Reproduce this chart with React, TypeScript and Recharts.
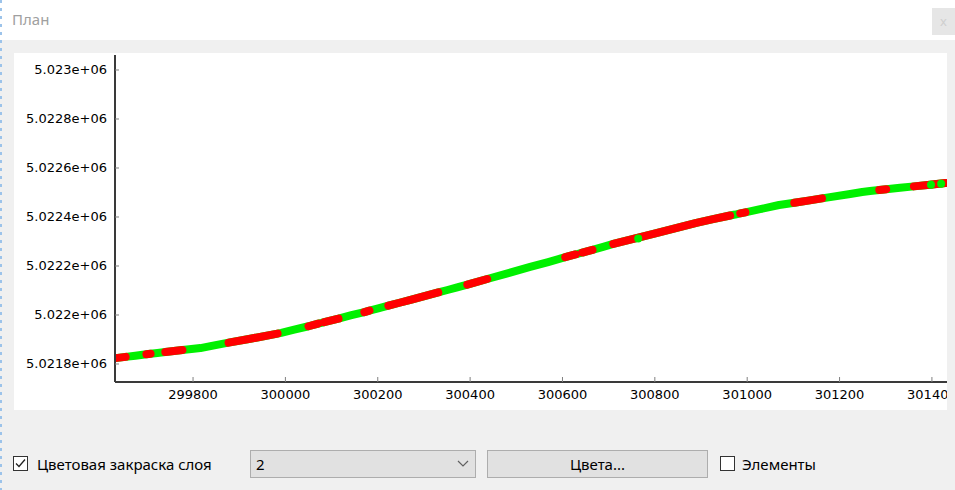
import React from 'react';
import { LineChart, Line, XAxis, YAxis, ReferenceDot } from 'recharts';

// curve samples (easting, northing)
const xValues = [
  299632, 299654, 299675, 299699, 299708, 299723, 299740, 299777, 299816, 299846,
  299877, 299924, 299983, 299991, 300019, 300050, 300071, 300078, 300084, 300115,
  300143, 300171, 300182, 300201, 300223, 300247, 300271, 300331, 300351, 300372,
  300394, 300437, 300481, 300530, 300569, 300606, 300628, 300634, 300643, 300665,
  300688, 300710, 300801, 300890, 300926, 300963, 300974, 300985, 300996, 301028,
  301069, 301084, 301102, 301132, 301162, 301223, 301249, 301266, 301286, 301301,
  301331, 301361, 301396, 301429,
];
const yValues = [
  5021824, 5021829, 5021834, 5021840, 5021842, 5021845, 5021849, 5021857, 5021865, 5021876,
  5021887, 5021903, 5021924, 5021927, 5021940, 5021954, 5021965, 5021968, 5021971, 5021985,
  5021999, 5022012, 5022018, 5022027, 5022038, 5022050, 5022062, 5022092, 5022102, 5022113,
  5022124, 5022147, 5022170, 5022196, 5022216, 5022236, 5022247, 5022250, 5022255, 5022266,
  5022278, 5022290, 5022333, 5022376, 5022391, 5022406, 5022410, 5022415, 5022419, 5022432,
  5022449, 5022453, 5022458, 5022467, 5022476, 5022494, 5022502, 5022506, 5022510, 5022513,
  5022519, 5022525, 5022532, 5022539,
];
// 1 = sample lies inside a red-coloured stretch
const redFlags = [
  1, 1, 0, 1, 1, 0, 1, 1, 0, 0,
  1, 1, 1, 0, 0, 1, 1, 0, 1, 1,
  0, 1, 1, 0, 1, 1, 1, 1, 0, 0,
  1, 1, 0, 0, 0, 1, 1, 0, 1, 1,
  0, 1, 1, 1, 1, 1, 0, 1, 1, 0,
  0, 0, 1, 1, 1, 0, 0, 0, 1, 1,
  0, 1, 1, 1,
];
// green points lying over red stretches
const greenDotX = [300764, 301398, 301420];
const greenDotY = [5022312, 5022532, 5022536];

const xTicks = [299800, 300000, 300200, 300400, 300600, 300800, 301000, 301200, 301400];
const xTickLabels = ['299800', '300000', '300200', '300400', '300600', '300800', '301000', '301200', '301400'];
const yTicks = [5021800, 5022000, 5022200, 5022400, 5022600, 5022800, 5023000];
const yTickLabels = ['5.0218e+06', '5.022e+06', '5.0222e+06', '5.0224e+06', '5.0226e+06', '5.0228e+06', '5.023e+06'];

const xDomain = [299631, 301450];
const yDomain = [5021726.5, 5023061.2];

const data = xValues.map((x, i) => ({
  x,
  y: yValues[i],
  red: redFlags[i] ? yValues[i] : null,
}));

const GREEN = '#00f000';
const RED = '#ff0000';
const AXIS_FONT = '"DejaVu Sans", sans-serif';

const YTick = (props: any) => {
  const { x, y, payload } = props;
  const idx = yTicks.indexOf(payload.value);
  return (
    <g>
      <line x1={x} x2={x + 4} y1={y} y2={y} stroke="#808080" strokeWidth={1} />
      <text x={x - 8} y={y} textAnchor="end" dominantBaseline="central" fontFamily={AXIS_FONT} fontSize={13} fill="#000">
        {idx >= 0 ? yTickLabels[idx] : payload.value}
      </text>
    </g>
  );
};

const XTick = (props: any) => {
  const { x, y, payload } = props;
  const idx = xTicks.indexOf(payload.value);
  return (
    <g>
      <line x1={x} x2={x} y1={y} y2={y - 5} stroke="#808080" strokeWidth={1} />
      <text x={x} y={y + 12} textAnchor="middle" dominantBaseline="central" fontFamily={AXIS_FONT} fontSize={13} fill="#000">
        {idx >= 0 ? xTickLabels[idx] : payload.value}
      </text>
    </g>
  );
};

const CheckBox = ({ checked, left, top }: { checked: boolean; left: number; top: number }) => (
  <svg style={{ position: 'absolute', left, top }} width={15} height={15}>
    <rect x={0.5} y={0.5} width={14} height={14} fill="#fff" stroke="#333" strokeWidth={1} />
    {checked && <polyline points="3,7.5 6,10.5 12,3.5" fill="none" stroke="#222" strokeWidth={1.3} />}
  </svg>
);

export default function App() {
  return (
    <div
      style={{
        position: 'fixed',
        left: 0,
        top: 0,
        width: 955,
        height: 490,
        background: '#f0f0f0',
        overflow: 'hidden',
        fontFamily: '"Noto Sans", sans-serif',
      }}
    >
      {/* title bar */}
      <div style={{ position: 'absolute', left: 0, top: 0, width: 955, height: 40, background: '#fff' }} />
      <div
        style={{
          position: 'absolute',
          left: 0,
          top: 0,
          width: 2,
          height: 490,
          background: 'repeating-linear-gradient(to bottom, #9cc3ea 0px, #9cc3ea 3px, transparent 3px, transparent 8px)',
        }}
      />
      <div style={{ position: 'absolute', left: 12, top: 8, fontSize: 15, color: '#a0a0a0', lineHeight: '22px' }}>План</div>
      <div
        style={{
          position: 'absolute',
          left: 932,
          top: 8,
          width: 23,
          height: 27,
          background: '#e6e6e6',
          color: '#cfcfcf',
          fontSize: 13,
          lineHeight: '26px',
          textAlign: 'center',
        }}
      >
        x
      </div>

      {/* chart area */}
      <div style={{ position: 'absolute', left: 14, top: 53, width: 933, height: 357, background: '#fff', overflow: 'hidden' }}>
        <LineChart width={941} height={357} data={data} margin={{ top: 2, right: 0, bottom: 0, left: 0 }}>
          <XAxis
            dataKey="x"
            type="number"
            domain={xDomain}
            allowDataOverflow
            ticks={xTicks}
            interval={0}
            tickSize={0}
            tickMargin={0}
            tick={<XTick />}
            height={28}
            axisLine={{ stroke: '#3a3a3a', strokeWidth: 2 }}
            tickLine={false}
          />
          <YAxis
            type="number"
            domain={yDomain}
            allowDataOverflow
            ticks={yTicks}
            interval={0}
            tickSize={0}
            tickMargin={0}
            tick={<YTick />}
            width={101}
            axisLine={{ stroke: '#3a3a3a', strokeWidth: 2 }}
            tickLine={false}
          />
          <Line
            dataKey="y"
            type="linear"
            stroke={GREEN}
            strokeWidth={8}
            strokeLinecap="round"
            strokeLinejoin="round"
            dot={false}
            activeDot={false}
            isAnimationActive={false}
          />
          <Line
            dataKey="red"
            type="linear"
            stroke={RED}
            strokeWidth={8}
            strokeLinecap="round"
            strokeLinejoin="round"
            dot={false}
            activeDot={false}
            connectNulls={false}
            isAnimationActive={false}
          />
          {greenDotX.map((gx, i) => (
            <ReferenceDot key={i} x={gx} y={greenDotY[i]} r={4} fill={GREEN} stroke="none" />
          ))}
        </LineChart>
      </div>

      {/* bottom controls */}
      <CheckBox checked left={13} top={456} />
      <div style={{ position: 'absolute', left: 37, top: 453, fontSize: 15, lineHeight: '22px', color: '#000' }}>
        Цветовая закраска слоя
      </div>
      <div
        style={{
          position: 'absolute',
          left: 250,
          top: 450,
          width: 224,
          height: 26,
          background: '#e1e1e1',
          border: '1px solid #adadad',
        }}
      >
        <div style={{ position: 'absolute', left: 5, top: 2, fontSize: 15, lineHeight: '22px' }}>2</div>
        <svg style={{ position: 'absolute', left: 206, top: 9 }} width={12} height={8}>
          <polyline points="1,1 6,6 11,1" fill="none" stroke="#606060" strokeWidth={1.2} />
        </svg>
      </div>
      <div
        style={{
          position: 'absolute',
          left: 487,
          top: 450,
          width: 219,
          height: 26,
          background: '#e1e1e1',
          border: '1px solid #adadad',
          textAlign: 'center',
          fontSize: 15,
          lineHeight: '26px',
        }}
      >
        Цвета...
      </div>
      <CheckBox checked={false} left={720} top={456} />
      <div style={{ position: 'absolute', left: 742, top: 453, fontSize: 15, lineHeight: '22px', color: '#000' }}>Элементы</div>
    </div>
  );
}
